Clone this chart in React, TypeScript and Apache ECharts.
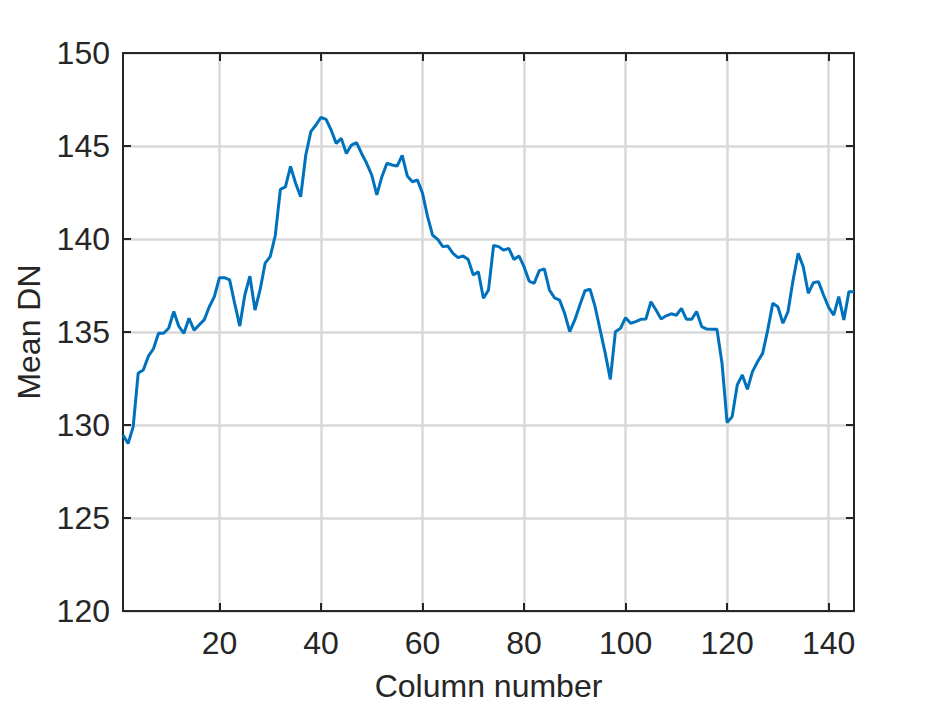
import React, { useEffect, useRef } from "react";
import * as echarts from "echarts";

const columns: number[] = Array.from({ length: 145 }, (_, k) => k + 1);
const meanDN: number[] = [
  129.46, 129.0, 129.9, 132.8, 132.96, 133.7, 134.1, 134.93, 134.93, 135.2,
  136.1, 135.3, 134.93, 135.74, 135.1, 135.38, 135.65, 136.36, 136.9, 137.92,
  137.92, 137.8, 136.54, 135.32, 136.99, 138.0, 136.18, 137.26, 138.7, 139.05,
  140.2, 142.67, 142.8, 143.9, 143.0, 142.27, 144.5, 145.77, 146.13, 146.54,
  146.43, 145.86, 145.14, 145.41, 144.6, 145.05, 145.18, 144.6, 144.07, 143.44,
  142.37, 143.35, 144.07, 143.98, 143.92, 144.5, 143.39, 143.08, 143.17, 142.46,
  141.2, 140.2, 139.98, 139.59, 139.62, 139.23, 139.0, 139.09, 138.9, 138.06,
  138.24, 136.81, 137.26, 139.65, 139.59, 139.4, 139.5, 138.9, 139.09, 138.51,
  137.74, 137.62, 138.3, 138.39, 137.26, 136.84, 136.72, 136.0, 135.02, 135.65,
  136.45, 137.22, 137.3, 136.36, 135.1, 133.85, 132.45, 135.02, 135.2, 135.77,
  135.47, 135.56, 135.68, 135.7, 136.63, 136.18, 135.7, 135.87, 135.98, 135.9,
  136.27, 135.68, 135.68, 136.1, 135.29, 135.16, 135.15, 135.15, 133.32, 130.13,
  130.45, 132.15, 132.69, 131.92, 132.87, 133.4, 133.85, 135.1, 136.54, 136.36,
  135.47, 136.1, 137.8, 139.23, 138.51, 137.08, 137.65, 137.71, 136.99, 136.33,
  135.91, 136.9, 135.65, 137.17, 137.17,
];
const xTicks: number[] = [20, 40, 60, 80, 100, 120, 140];
const yTicks: number[] = [120, 125, 130, 135, 140, 145, 150];

const FONT = "Arial, 'Liberation Sans', Helvetica, sans-serif";
const AXIS_COLOR = "#262626";
const GRID_COLOR = "#d9d9d9";
const FS = 32;

export default function App() {
  const ref = useRef<HTMLDivElement>(null);
  useEffect(() => {
    if (!ref.current) return;
    const chart = echarts.init(ref.current, undefined, { renderer: "svg" });
    const axisLine = { show: true, onZero: false, lineStyle: { color: AXIS_COLOR, width: 2 } };
    const tickStyle = { show: true, inside: true, length: 8, lineStyle: { color: AXIS_COLOR, width: 2 } };
    chart.setOption({
      animation: false,
      backgroundColor: "#ffffff",
      grid: { left: 123, right: 91, top: 53, bottom: 97, containLabel: false },
      xAxis: [
        {
          type: "value",
          min: 1,
          max: 145,
          position: "bottom",
          name: "Column number",
          nameLocation: "middle",
          nameGap: 59,
          nameTextStyle: { fontFamily: FONT, fontSize: FS, color: AXIS_COLOR },
          axisLine,
          axisTick: { ...tickStyle, customValues: xTicks },
          axisLabel: {
            customValues: xTicks,
            fontFamily: FONT,
            fontSize: FS,
            color: AXIS_COLOR,
            margin: 16,
          },
          splitLine: { show: true, lineStyle: { color: GRID_COLOR, width: 2.5 } },
        },
        {
          type: "value",
          min: 1,
          max: 145,
          position: "top",
          axisLine,
          axisTick: { ...tickStyle, customValues: xTicks },
          axisLabel: { show: false, customValues: xTicks },
          splitLine: { show: false },
        },
      ],
      yAxis: [
        {
          type: "value",
          min: yTicks[0],
          max: yTicks[yTicks.length - 1],
          interval: 5,
          position: "left",
          name: "Mean DN",
          nameLocation: "middle",
          nameGap: 78,
          nameTextStyle: { fontFamily: FONT, fontSize: FS, color: AXIS_COLOR },
          axisLine,
          axisTick: tickStyle,
          axisLabel: { fontFamily: FONT, fontSize: FS, color: AXIS_COLOR, margin: 13 },
          splitLine: { show: true, lineStyle: { color: GRID_COLOR, width: 2.5 } },
        },
        {
          type: "value",
          min: yTicks[0],
          max: yTicks[yTicks.length - 1],
          interval: 5,
          position: "right",
          axisLine,
          axisTick: tickStyle,
          axisLabel: { show: false },
          splitLine: { show: false },
        },
      ],
      series: [
        {
          type: "line",
          xAxisIndex: 0,
          yAxisIndex: 0,
          data: columns.map((c, k) => [c, meanDN[k]]),
          showSymbol: false,
          symbol: "none",
          lineStyle: { color: "#0072BD", width: 3 },
          z: 5,
        },
      ],
    });
    return () => chart.dispose();
  }, []);
  return (
    <div
      ref={ref}
      style={{ position: "fixed", left: 0, top: 0, width: 945, height: 708 }}
    />
  );
}
